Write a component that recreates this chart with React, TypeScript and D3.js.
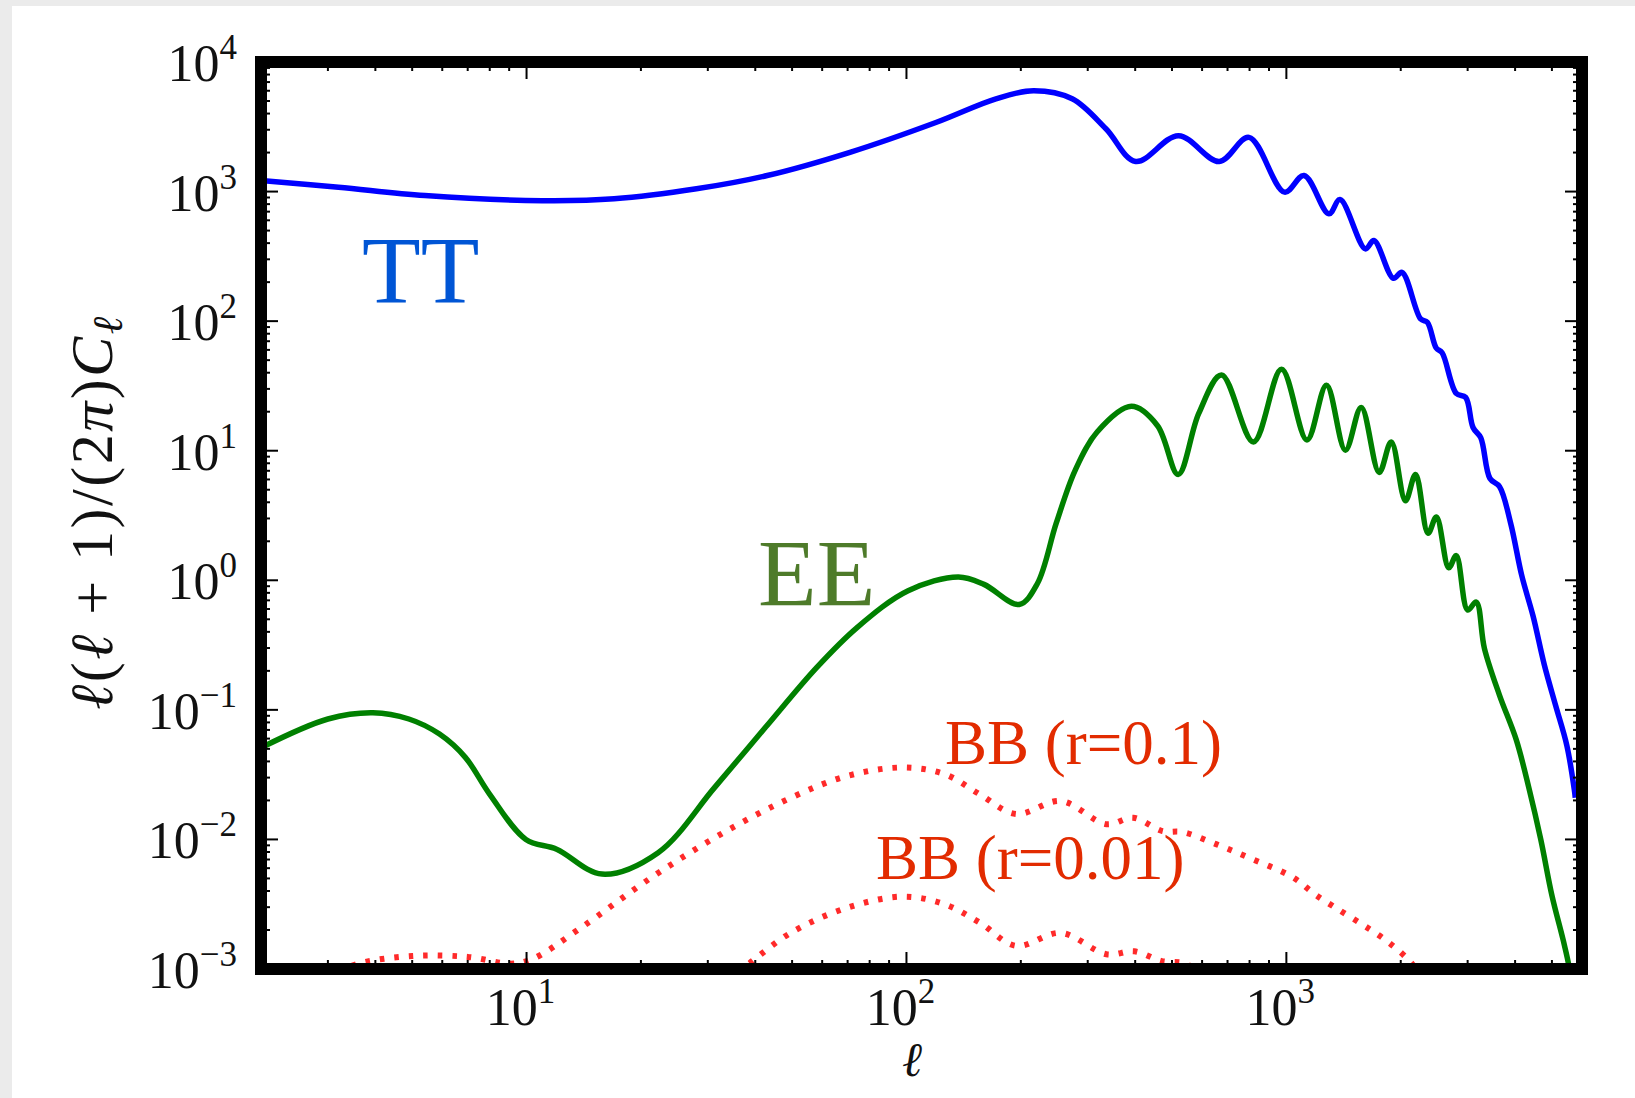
import { useEffect, useRef } from "react";
import * as d3 from "d3";

// multipole values and spectra
const TT_ELL = [2, 3.2, 5.4, 11, 17, 28, 43, 71, 120, 172, 216, 273, 335, 401, 520, 666, 797, 989, 1113, 1294, 1384, 1614, 1700, 1913, 2015, 2256, 2350, 2480, 2570, 2800, 2964, 3100, 3248, 3435, 3638, 3892, 4167, 4460, 4774, 5114, 5474, 5729, 5760];
const TT_VAL = [1216, 1080, 931, 851, 879, 1050, 1330, 2010, 3430, 5200, 6000, 5200, 3050, 1706, 2700, 1706, 2620, 990, 1330, 673, 867, 361, 419, 214, 238, 104, 98, 62, 57, 27.7, 25.8, 15.1, 12.6, 6.1, 5.3, 2.77, 1.08, 0.53, 0.223, 0.108, 0.053, 0.024, 0.021];

const EE_ELL = [2, 3, 3.94, 4.9, 5.9, 6.9, 8.0, 9.96, 12.0, 15.8, 22.2, 31.2, 42.5, 58, 74, 101, 137, 160, 198, 221, 248, 278, 318, 391, 458, 519, 588, 675, 819, 971, 1133, 1275, 1430, 1574, 1755, 1888, 2058, 2188, 2360, 2483, 2676, 2800, 3000, 3159, 3322, 3638, 4029, 4364, 4673, 5003, 5356, 5546, 5620];
const EE_VAL = [0.051, 0.085, 0.095, 0.085, 0.065, 0.043, 0.0223, 0.010, 0.0084, 0.0054, 0.0079, 0.025, 0.073, 0.212, 0.43, 0.83, 1.06, 0.93, 0.65, 0.94, 2.77, 7.06, 14.0, 22.0, 15.6, 6.56, 19.4, 38.4, 11.7, 42.6, 12.1, 32, 10.1, 21.6, 6.8, 11.7, 4.11, 6.56, 2.31, 3.08, 1.25, 1.55, 0.589, 0.68, 0.297, 0.13, 0.0586, 0.0239, 0.01, 0.00367, 0.00166, 0.00104, 0.0007];

const BB1_ELL = [3.2, 3.6, 5, 7, 9.1, 10.4, 13.9, 21.3, 32.5, 49.7, 69.8, 98, 126, 156, 194, 255, 336, 395, 472, 533, 653, 800, 1040, 1200, 1835, 2140, 2300];
const BB1_VAL = [0.00095, 0.0011, 0.00126, 0.00124, 0.0011, 0.0012, 0.00208, 0.00507, 0.011, 0.021, 0.0309, 0.0359, 0.0319, 0.0223, 0.0157, 0.0198, 0.0131, 0.0147, 0.0116, 0.0114, 0.0092, 0.0072, 0.0051, 0.0037, 0.00165, 0.0011, 0.0008];

const BB01_ELL = [36, 38.5, 49.7, 69.8, 98, 126, 156, 194, 255, 336, 398, 470, 530, 560, 620];
const BB01_VAL = [0.00095, 0.0011, 0.00191, 0.00297, 0.00362, 0.00316, 0.00228, 0.00151, 0.0019, 0.0013, 0.00137, 0.00115, 0.00112, 0.00105, 0.0009];

const X_MAJOR = [10, 100, 1000];
const X_LABELS = ["1", "2", "3"];
const Y_EXPONENTS = [-3, -2, -1, 0, 1, 2, 3, 4];

const W = 1635;
const H = 1098;

export default function App() {
  const svgRef = useRef<SVGSVGElement>(null);

  useEffect(() => {
    if (!svgRef.current) return;
    document.body.style.margin = "0";
    const svg = d3.select(svgRef.current);
    svg.selectAll("*").remove();

    const left = 261, right = 1582, top = 62, bottom = 969;
    const x = d3.scaleLog().domain([2, 6000]).range([left, right]);
    const y = d3.scaleLog().domain([1e-3, 1e4]).range([bottom, top]);

    svg.append("rect").attr("width", W).attr("height", H).attr("fill", "#ebebeb");
    svg.append("rect").attr("x", 12).attr("y", 6).attr("width", W - 12).attr("height", H - 6).attr("fill", "#fff");

    svg.append("defs").append("clipPath").attr("id", "plot")
      .append("rect").attr("x", left).attr("y", top).attr("width", right - left).attr("height", bottom - top);

    const line = d3.line<[number, number]>()
      .x((d) => x(d[0]))
      .y((d) => y(d[1]))
      .curve(d3.curveCatmullRom.alpha(0.5));

    const zip = (a: number[], b: number[]) => a.map((v, i) => [v, b[i]] as [number, number]);

    const curves = svg.append("g").attr("clip-path", "url(#plot)");
    curves.append("path").datum(zip(BB1_ELL, BB1_VAL)).attr("d", line)
      .attr("fill", "none").attr("stroke", "#ff2a2a").attr("stroke-width", 6).attr("stroke-dasharray", "4.5 10");
    curves.append("path").datum(zip(BB01_ELL, BB01_VAL)).attr("d", line)
      .attr("fill", "none").attr("stroke", "#ff2a2a").attr("stroke-width", 6).attr("stroke-dasharray", "4.5 10");
    curves.append("path").datum(zip(EE_ELL, EE_VAL)).attr("d", line)
      .attr("fill", "none").attr("stroke", "#008000").attr("stroke-width", 5.5).attr("stroke-linejoin", "round");
    curves.append("path").datum(zip(TT_ELL, TT_VAL)).attr("d", line)
      .attr("fill", "none").attr("stroke", "#0000ff").attr("stroke-width", 5.5).attr("stroke-linejoin", "round");

    // ticks, inward on all four sides
    const ticks = svg.append("g").attr("stroke", "#000").attr("stroke-width", 2);
    const xMinor: number[] = [];
    [1, 10, 100, 1000].forEach((d) => {
      for (let k = 2; k <= 9; k++) if (k * d >= 2 && k * d <= 6000) xMinor.push(k * d);
    });
    const yMinor: number[] = [];
    Y_EXPONENTS.slice(0, -1).forEach((e) => {
      for (let k = 2; k <= 9; k++) yMinor.push(k * Math.pow(10, e));
    });
    const xTick = (v: number, len: number) => {
      ticks.append("line").attr("x1", x(v)).attr("x2", x(v)).attr("y1", bottom).attr("y2", bottom - len);
      ticks.append("line").attr("x1", x(v)).attr("x2", x(v)).attr("y1", top).attr("y2", top + len);
    };
    const yTick = (v: number, len: number) => {
      ticks.append("line").attr("y1", y(v)).attr("y2", y(v)).attr("x1", left).attr("x2", left + len);
      ticks.append("line").attr("y1", y(v)).attr("y2", y(v)).attr("x1", right).attr("x2", right - len);
    };
    xMinor.forEach((v) => xTick(v, 9));
    X_MAJOR.forEach((v) => xTick(v, 17));
    yMinor.forEach((v) => yTick(v, 9));
    Y_EXPONENTS.forEach((e) => yTick(Math.pow(10, e), 17));

    svg.append("rect").attr("x", left).attr("y", top).attr("width", right - left).attr("height", bottom - top)
      .attr("fill", "none").attr("stroke", "#000").attr("stroke-width", 12);

    const font = "'Liberation Serif', 'Times New Roman', Tinos, Times, serif";

    // x tick labels
    X_MAJOR.forEach((v, i) => {
      const t = svg.append("text").attr("x", x(v) - 6).attr("y", 1025)
        .attr("text-anchor", "middle").attr("font-family", font).attr("font-size", 52).attr("fill", "#111");
      t.append("tspan").text("10");
      t.append("tspan").attr("dy", -22).attr("font-size", 35).text(X_LABELS[i]);
    });

    // y tick labels
    Y_EXPONENTS.forEach((e) => {
      const t = svg.append("text").attr("x", 237).attr("y", y(Math.pow(10, e)) + 19)
        .attr("text-anchor", "end").attr("font-family", font).attr("font-size", 52).attr("fill", "#111");
      t.append("tspan").text("10");
      t.append("tspan").attr("dy", -22).attr("font-size", 35).text(e < 0 ? `\u2212${-e}` : `${e}`);
    });

    // axis labels
    svg.append("text").attr("x", 912).attr("y", 1076).attr("text-anchor", "middle")
      .attr("font-family", font).attr("font-style", "italic").attr("font-size", 48).attr("fill", "#111").text("\u2113");

    const yl = svg.append("text").attr("transform", "translate(112,512) rotate(-90)")
      .attr("text-anchor", "middle").attr("font-family", font).attr("font-size", 60)
      .attr("letter-spacing", 2.5).attr("fill", "#111");
    yl.append("tspan").attr("font-style", "italic").text("\u2113");
    yl.append("tspan").text("(");
    yl.append("tspan").attr("font-style", "italic").text("\u2113");
    yl.append("tspan").text(" + 1)/(2");
    yl.append("tspan").attr("font-style", "italic").text("\u03c0");
    yl.append("tspan").text(")");
    yl.append("tspan").attr("font-style", "italic").text("C");
    yl.append("tspan").attr("font-style", "italic").attr("font-size", 42).attr("dy", 10).text("\u2113");

    // series annotations
    const label = (txt: string, lx: number, ly: number, size: number, color: string) =>
      svg.append("text").attr("x", lx).attr("y", ly).attr("font-family", font)
        .attr("font-size", size).attr("fill", color).text(txt);
    label("TT", 362, 303, 96, "#0055d5");
    label("EE", 758, 606, 96, "#4e7b2a");
    label("BB (r=0.1)", 945, 764, 63, "#e22b00");
    label("BB (r=0.01)", 876, 879, 63, "#e22b00");
  }, []);

  return <svg ref={svgRef} width={W} height={H} style={{ display: "block" }} />;
}
